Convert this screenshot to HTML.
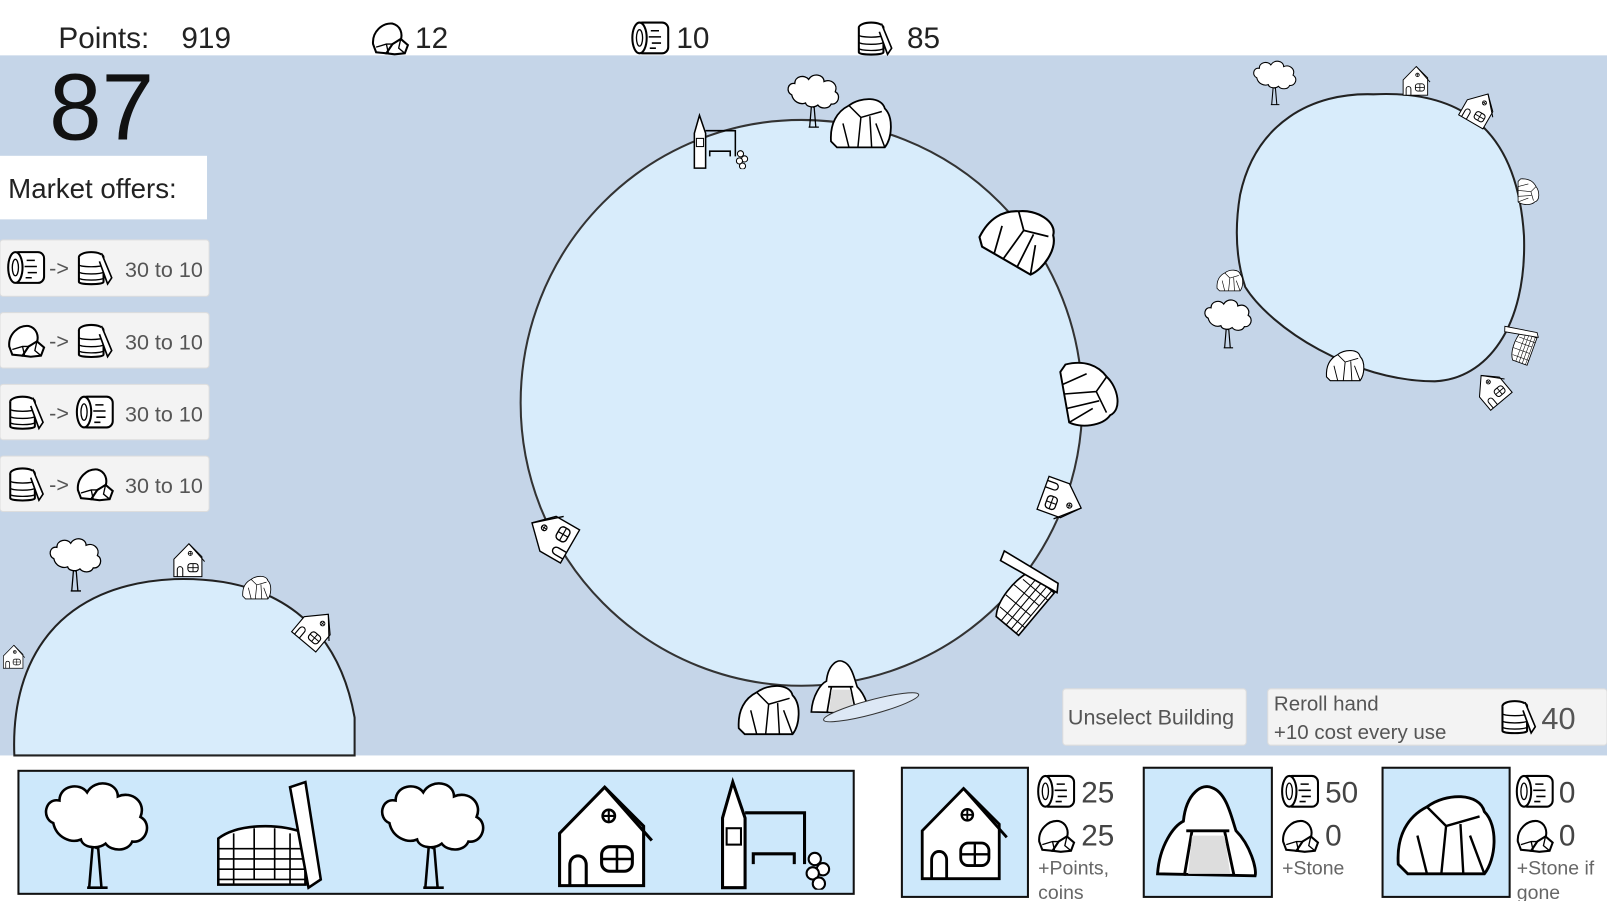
<!DOCTYPE html>
<html><head><meta charset="utf-8"><style>
html,body{margin:0;padding:0;background:#fff;width:1607px;height:901px;overflow:hidden}
svg{display:block}
text{font-family:"Liberation Sans",sans-serif}
</style></head><body>
<svg width="1607" height="901" viewBox="0 0 1568 879" preserveAspectRatio="none" xmlns="http://www.w3.org/2000/svg">
<defs>
<symbol id="log" viewBox="0 0 40 36">
<rect x="6" y="3" width="31" height="30" rx="6" fill="#fff" stroke="#000" stroke-width="2"/>
<ellipse cx="9" cy="18" rx="7" ry="15" fill="#fff" stroke="#000" stroke-width="2"/>
<ellipse cx="9" cy="18" rx="3" ry="8" fill="none" stroke="#000" stroke-width="1.3"/>
<path d="M20 11h8M18 17h12M21 23h9M19 28h6" stroke="#000" stroke-width="1.5"/>
</symbol>
<symbol id="stone" viewBox="0 0 40 36">
<path d="M3 24C2 12 12 3 22 4 30 6 32 14 30 20L22 24 16 33 6 32Z" fill="#fff" stroke="#000" stroke-width="2"/>
<path d="M22 24 30 19 37 25 34 33 24 34 16 33Z" fill="#fff" stroke="#000" stroke-width="2"/>
<path d="M6 27 16 24 22 24M16 24 18 33M30 19 28 28 34 33" fill="none" stroke="#000" stroke-width="1.3"/>
</symbol>
<symbol id="coin" viewBox="0 0 40 36">
<ellipse cx="16" cy="8" rx="12" ry="5" fill="#fff" stroke="#000" stroke-width="2"/>
<path d="M4 8v24c0 3 24 3 24 0V8" fill="#fff" stroke="#000" stroke-width="2"/>
<path d="M4 15c0 3 24 3 24 0M4 22c0 3 24 3 24 0M4 28c0 3 24 3 24 0" fill="none" stroke="#000" stroke-width="1.3"/>
<path d="M26 4 36 28 32 34 24 12" fill="#fff" stroke="#000" stroke-width="1.6"/>
</symbol>
<symbol id="tree" viewBox="0 0 120 110">
<path d="M50 108 54 60 40 45M56 70 70 50M62 108 58 60 75 42" fill="none" stroke="#000" stroke-width="2.5"/>
<path d="M15 45c-12-5-8-25 6-22 0-15 20-18 27-8 8-14 30-10 30 4 14-6 28 6 22 20 12 6 6 26-8 24-4 10-20 10-26 2-8 6-22 4-24-4-10 4-24-2-27-16z" fill="#fff" stroke="#000" stroke-width="2.5"/>
<path d="M48 108h20" stroke="#000" stroke-width="2.5"/>
</symbol>
<symbol id="house" viewBox="0 0 120 110">
<path d="M14 106V55L58 10 96 48V106Z" fill="#fff" stroke="#000" stroke-width="3"/>
<path d="M58 10 104 62" stroke="#000" stroke-width="3"/>
<circle cx="62" cy="38" r="6" fill="none" stroke="#000" stroke-width="2.5"/>
<path d="M56 38h12M62 32v12" stroke="#000" stroke-width="2"/>
<path d="M24 106V86c0-12 16-12 16 0v20" fill="none" stroke="#000" stroke-width="3"/>
<rect x="55" y="68" width="30" height="24" rx="8" fill="none" stroke="#000" stroke-width="3"/>
<path d="M70 68v24M55 80h30" stroke="#000" stroke-width="2.5"/>
</symbol>
<symbol id="rock" viewBox="0 0 120 110">
<path d="M10 90C8 60 20 40 40 30 60 15 95 15 100 35 115 50 112 85 100 100H20Z" fill="#fff" stroke="#000" stroke-width="3"/>
<path d="M40 30 60 50 95 40M60 50 55 100M75 48 78 100M30 60 40 100M85 60 100 100" fill="none" stroke="#000" stroke-width="2.5"/>
</symbol>
<symbol id="wall" viewBox="0 0 120 110">
<path d="M10 105V60C30 45 70 45 95 55V105Z" fill="#fff" stroke="#000" stroke-width="2.5"/>
<path d="M10 70h85M10 80h85M10 90h85M10 100h85M25 55v50M45 50v50M65 50v50M80 55v50" stroke="#000" stroke-width="1.6"/>
<path d="M80 10 95 5 110 100 98 108Z" fill="#fff" stroke="#000" stroke-width="2.5"/>
</symbol>
<symbol id="mine" viewBox="0 0 120 110">
<path d="M8 100C10 70 25 50 35 45 38 15 55 5 65 10 80 15 85 40 90 55 105 70 112 95 110 102Z" fill="#fff" stroke="#000" stroke-width="3"/>
<path d="M38 55h45M44 55 36 102M78 55 88 102" fill="none" stroke="#000" stroke-width="3"/>
<path d="M44 60 40 100H84L78 60Z" fill="#ddd"/>
</symbol>
<symbol id="barn" viewBox="0 0 120 110">
<path d="M10 108V40L20 5 32 40V108Z" fill="#fff" stroke="#000" stroke-width="3"/>
<path d="M32 35h58v50M40 85V75h40v10" fill="none" stroke="#000" stroke-width="3"/>
<rect x="14" y="50" width="14" height="16" fill="none" stroke="#000" stroke-width="2"/>
<circle cx="100" cy="80" r="6" fill="#fff" stroke="#000" stroke-width="2"/><circle cx="108" cy="90" r="6" fill="#fff" stroke="#000" stroke-width="2"/>
<circle cx="98" cy="94" r="6" fill="#fff" stroke="#000" stroke-width="2"/><circle cx="104" cy="104" r="6" fill="#fff" stroke="#000" stroke-width="2"/>
</symbol>
</defs>

<rect width="1568" height="879" fill="#fff"/>
<rect y="54" width="1568" height="683" fill="#c5d5e8"/>

<text x="57" y="47" font-size="29" fill="#222">Points:</text>
<text x="177" y="47" font-size="29" fill="#222">919</text>
<use href="#stone" x="361" y="19" width="40" height="36"/>
<text x="405" y="47" font-size="29" fill="#222">12</text>
<use href="#log" x="615" y="19" width="40" height="36"/>
<text x="660" y="47" font-size="29" fill="#222">10</text>
<use href="#coin" x="834" y="19" width="40" height="36"/>
<text x="885" y="47" font-size="29" fill="#222">85</text>

<text x="48" y="136" font-size="92" fill="#111">87</text>

<rect x="0" y="152" width="202" height="62" fill="#fff"/>
<text x="8" y="193" font-size="27" fill="#222">Market offers:</text>

<g font-size="21" fill="#555">
<rect x="0" y="234" width="204" height="55" rx="3" fill="#f3f3f3" stroke="#ddd"/>
<use href="#log" x="6" y="243" width="40" height="36"/><text x="48" y="269">-&gt;</text><use href="#coin" x="73" y="243" width="40" height="36"/><text x="122" y="270">30 to 10</text>
<rect x="0" y="305" width="204" height="54" rx="3" fill="#f3f3f3" stroke="#ddd"/>
<use href="#stone" x="6" y="314" width="40" height="36"/><text x="48" y="340">-&gt;</text><use href="#coin" x="73" y="314" width="40" height="36"/><text x="122" y="341">30 to 10</text>
<rect x="0" y="375" width="204" height="54" rx="3" fill="#f3f3f3" stroke="#ddd"/>
<use href="#coin" x="6" y="384" width="40" height="36"/><text x="48" y="410">-&gt;</text><use href="#log" x="73" y="384" width="40" height="36"/><text x="122" y="411">30 to 10</text>
<rect x="0" y="445" width="204" height="54" rx="3" fill="#f3f3f3" stroke="#ddd"/>
<use href="#coin" x="6" y="454" width="40" height="36"/><text x="48" y="480">-&gt;</text><use href="#stone" x="73" y="454" width="40" height="36"/><text x="122" y="481">30 to 10</text>
</g>

<ellipse cx="782" cy="393" rx="274" ry="276" fill="#d8ecfb" stroke="#333" stroke-width="2"/>
<path d="M1210 190C1225 120 1280 90 1340 92 1420 88 1480 120 1487 230 1490 320 1450 370 1400 372 1320 372 1240 320 1215 280 1205 250 1205 220 1210 190Z" fill="#d8ecfb" stroke="#222" stroke-width="2"/>
<path d="M14 737C10 640 60 570 170 565 270 562 330 610 346 700V737Z" fill="#d8ecfb" stroke="#222" stroke-width="2"/>

<use href="#tree" x="765" y="70" width="60" height="55"/>
<use href="#rock" x="805" y="85" width="70" height="65"/>
<use href="#barn" x="660" y="110" width="85" height="55"/>
<use href="#rock" x="950" y="190" width="95" height="75" transform="rotate(30 997 227)"/>
<use href="#rock" x="1030" y="340" width="75" height="85" transform="rotate(80 1067 382)"/>
<use href="#house" x="1012" y="465" width="50" height="50" transform="rotate(110 1037 490)"/>
<use href="#wall" x="950" y="540" width="80" height="70" transform="rotate(-50 990 575)"/>
<use href="#mine" x="775" y="640" width="90" height="60"/>
<use href="#rock" x="715" y="655" width="70" height="70"/>
<ellipse cx="850" cy="690" rx="48" ry="7" fill="#dde8f5" stroke="#333" transform="rotate(-15 850 690)"/>
<use href="#house" x="510" y="495" width="55" height="50" transform="rotate(-60 537 520)"/>

<use href="#tree" x="1220" y="55" width="50" height="50"/>
<use href="#house" x="1365" y="58" width="35" height="40"/>
<use href="#house" x="1425" y="85" width="40" height="40" transform="rotate(30 1445 105)"/>
<use href="#rock" x="1478" y="170" width="30" height="35" transform="rotate(90 1493 187)"/>
<use href="#tree" x="1172" y="285" width="55" height="60"/>
<use href="#rock" x="1185" y="255" width="30" height="35"/>
<use href="#rock" x="1280" y="335" width="65" height="40"/>
<use href="#house" x="1435" y="355" width="40" height="45" transform="rotate(-40 1455 377)"/>
<use href="#wall" x="1460" y="310" width="40" height="50" transform="rotate(-70 1480 335)"/>

<use href="#tree" x="45" y="520" width="60" height="60"/>
<use href="#house" x="165" y="523" width="40" height="45"/>
<use href="#rock" x="228" y="557" width="45" height="30"/>
<use href="#house" x="288" y="590" width="45" height="45" transform="rotate(40 310 612)"/>
<use href="#house" x="0" y="620" width="28" height="40"/>

<rect x="1037" y="672" width="179" height="55" rx="3" fill="#f3f3f3" stroke="#ddd"/>
<text x="1042" y="707" font-size="21" fill="#555">Unselect Building</text>
<rect x="1237" y="672" width="331" height="55" rx="3" fill="#f3f3f3" stroke="#ddd"/>
<text x="1243" y="693" font-size="20" fill="#555">Reroll hand</text>
<text x="1243" y="721" font-size="20" fill="#555">+10 cost every use</text>
<use href="#coin" x="1462" y="680" width="40" height="38"/>
<text x="1504" y="711" font-size="30" fill="#555">40</text>

<rect x="18" y="752" width="815" height="120" fill="#cde8fb" stroke="#111" stroke-width="2"/>
<use href="#tree" x="37" y="758" width="120" height="110"/>
<use href="#wall" x="203" y="758" width="120" height="110"/>
<use href="#tree" x="365" y="758" width="120" height="110"/>
<use href="#house" x="532" y="758" width="120" height="110"/>
<use href="#barn" x="695" y="758" width="120" height="110"/>

<rect x="880" y="749" width="123" height="126" fill="#cde8fb" stroke="#111" stroke-width="2"/>
<use href="#house" x="887" y="758" width="110" height="105"/>
<rect x="1116" y="749" width="125" height="126" fill="#cde8fb" stroke="#111" stroke-width="2"/>
<use href="#mine" x="1122" y="758" width="112" height="105"/>
<rect x="1349" y="749" width="124" height="126" fill="#cde8fb" stroke="#111" stroke-width="2"/>
<use href="#rock" x="1355" y="758" width="112" height="105"/>

<g fill="#444">
<use href="#log" x="1011" y="754" width="40" height="36"/><text x="1055" y="783" font-size="29">25</text>
<use href="#stone" x="1011" y="797" width="40" height="36"/><text x="1055" y="825" font-size="29">25</text>
<text x="1013" y="853" font-size="19" fill="#666">+Points,</text>
<text x="1013" y="877" font-size="19" fill="#666">coins</text>
<use href="#log" x="1249" y="754" width="40" height="36"/><text x="1293" y="783" font-size="29">50</text>
<use href="#stone" x="1249" y="797" width="40" height="36"/><text x="1293" y="825" font-size="29">0</text>
<text x="1251" y="853" font-size="19" fill="#666">+Stone</text>
<use href="#log" x="1478" y="754" width="40" height="36"/><text x="1521" y="783" font-size="29">0</text>
<use href="#stone" x="1478" y="797" width="40" height="36"/><text x="1521" y="825" font-size="29">0</text>
<text x="1480" y="853" font-size="19" fill="#666">+Stone if</text>
<text x="1480" y="877" font-size="19" fill="#666">gone</text>
</g>
</svg>
</body></html>
